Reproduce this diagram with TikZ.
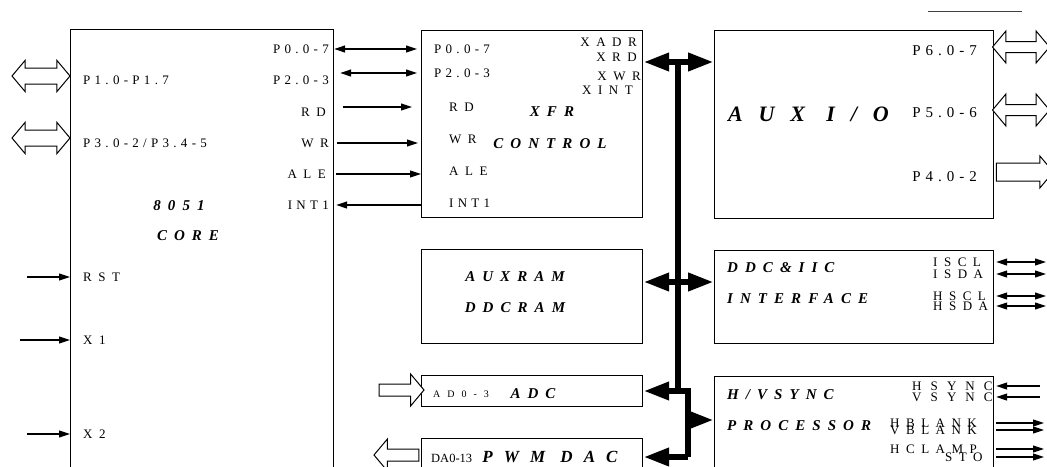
\documentclass[tikz,border=0pt]{standalone}
\usepackage{fontspec}
\setmainfont{Liberation Serif}
\newfontfamily\pinfont[LetterSpace=50]{Liberation Serif}
\newfontfamily\numfont[LetterSpace=33]{Liberation Serif}
\newfontfamily\widefont[LetterSpace=70]{Liberation Serif}
\newfontfamily\ttlfont[LetterSpace=47]{Liberation Serif}
\usetikzlibrary{arrows.meta, shapes.arrows}

\begin{document}
\begin{tikzpicture}[
    x=1pt, y=-1pt,
    blk/.style={draw, line width=1.2pt, rectangle, anchor=north west, inner sep=0pt},
    pin/.style={font=\pinfont\fontsize{13pt}{15pt}\selectfont, inner sep=0pt,
                text height=8.6pt, text depth=0pt},
    num/.style={pin, font=\numfont\fontsize{13pt}{15pt}\selectfont},
    widepin/.style={pin, font=\widefont\fontsize{13pt}{15pt}\selectfont},
    ttl/.style={font=\ttlfont\bfseries\itshape\fontsize{15pt}{17pt}\selectfont,
                inner sep=0pt, text height=9.9pt, text depth=0pt},
    sig/.style={line width=1.1pt},
    pinhead/.tip={Triangle[length=11pt, width=7pt]},
    bushead/.tip={Triangle[length=26pt, width=17pt]},
    bus/.style={line width=6.5pt},
    hollow/.style={draw, line width=1pt, fill=white, inner xsep=0pt,
                   double arrow tip angle=100, single arrow tip angle=100},
  ]
    \useasboundingbox (0,0) rectangle (1047,466);
    \clip (0,0) rectangle (1047,466);

    % Blocks
    \node[blk, minimum width=263pt, minimum height=451pt] (core) at (70,29) {};
    \node[blk, minimum width=221pt, minimum height=187pt] (xfr) at (421,30) {};
    \node[blk, minimum width=221pt, minimum height=94pt] (auxram) at (421,249) {};
    \node[blk, minimum width=221pt, minimum height=31pt] (adc) at (421,375) {};
    \node[blk, minimum width=221pt, minimum height=42pt] (dac) at (421,438) {};
    \node[blk, minimum width=279pt, minimum height=188pt] (auxio) at (714,30) {};
    \node[blk, minimum width=279pt, minimum height=93pt] (ddc) at (714,250) {};
    \node[blk, minimum width=279pt, minimum height=104pt] (sync) at (714,376) {};

    % 8051 core
    \node[num, anchor=west] (cp1) at (83,80) {P1.0-P1.7};
    \node[num, anchor=west] (cp3) at (83,143) {P3.0-2/P3.4-5};
    \node[pin, anchor=west] (crst) at (83,277) {RST};
    \node[pin, anchor=west] (cx1) at (83,340) {X1};
    \node[pin, anchor=west] (cx2) at (83,434) {X2};
    \node[num, anchor=east] (cp0) at (329,49) {P0.0-7};
    \node[num, anchor=east] (cp2) at (329,80) {P2.0-3};
    \node[pin, anchor=east] (crd) at (326,112) {RD};
    \node[pin, anchor=east] (cwr) at (329,143) {WR};
    \node[pin, anchor=east] (cale) at (326,174) {ALE};
    \node[num, anchor=east] (cint) at (329,205) {INT1};
    \node[ttl] (c8051) at (179,206) {8051};
    \node[ttl] (ccore) at (188,236) {CORE};

    % XFR control
    \node[num, anchor=west] (xp0) at (434,49) {P0.0-7};
    \node[num, anchor=west] (xp2) at (434,73) {P2.0-3};
    \node[pin, anchor=west] (xrd) at (449,107) {RD};
    \node[pin, anchor=west] (xwr) at (449,139) {WR};
    \node[pin, anchor=west] (xale) at (449,171) {ALE};
    \node[num, anchor=west] (xint) at (449,203) {INT1};
    \node[pin, anchor=east] (xadr) at (637,42) {XADR};
    \node[pin, anchor=east] (xxrd) at (637,57) {XRD};
    \node[pin, anchor=east] (xxwr) at (641,76) {XWR};
    \node[pin, anchor=west] (xxint) at (582,90) {XINT};
    \node[ttl] (xname) at (552,112) {XFR};
    \node[ttl] (xctl) at (550,144) {CONTROL};

    % RAM, ADC, DAC
    \node[ttl] (raux) at (515,277) {AUXRAM};
    \node[ttl] (rddc) at (515,308) {DDCRAM};
    \node[pin, anchor=west, font=\widefont\fontsize{10pt}{12pt}\selectfont,
          text height=6.6pt] (adin) at (433,394) {AD0-3};
    \node[ttl] (adname) at (533,394) {ADC};
    \node[pin, anchor=west, font=\fontsize{12.5pt}{14pt}\selectfont] (daout) at (431,458) {DA0-13};
    \node[ttl, text height=11.3pt,
          font=\ttlfont\bfseries\itshape\fontsize{17pt}{19pt}\selectfont\addfontfeature{LetterSpace=65}]
          (daname) at (550,457) {PWM DAC};

    % AUX I/O
    \node[ttl, anchor=west, text height=14.6pt,
          font=\ttlfont\bfseries\itshape\fontsize{22pt}{24pt}\selectfont\addfontfeature{LetterSpace=72}]
          (auxname) at (728,114) {AUX I/O};
    \node[num, anchor=east, font=\numfont\fontsize{15pt}{17pt}\selectfont, text height=9.9pt] (ap6) at (977,51) {P6.0-7};
    \node[num, anchor=east, font=\numfont\fontsize{15pt}{17pt}\selectfont, text height=9.9pt] (ap5) at (977,113) {P5.0-6};
    \node[num, anchor=east, font=\numfont\fontsize{15pt}{17pt}\selectfont, text height=9.9pt] (ap4) at (977,177) {P4.0-2};

    % DDC & IIC
    \node[ttl, anchor=west] (dname) at (727,268) {DDC\&IIC};
    \node[ttl, anchor=west] (dif) at (727,299) {INTERFACE};
    \node[pin, anchor=west] (iscl) at (933,262) {ISCL};
    \node[pin, anchor=west] (isda) at (933,274) {ISDA};
    \node[pin, anchor=west] (hscl) at (933,296) {HSCL};
    \node[pin, anchor=west] (hsda) at (933,306) {HSDA};

    % H/V sync
    \node[ttl, anchor=west] (sname) at (727,395) {H/VSYNC};
    \node[ttl, anchor=west] (sproc) at (727,426) {PROCESSOR};
    \node[widepin, anchor=west] (hsync) at (912,386) {HSYNC};
    \node[widepin, anchor=west] (vsync) at (912,397) {VSYNC};
    \node[pin, anchor=west] (hblank) at (890,423) {HBLANK};
    \node[pin, anchor=west] (vblank) at (890,430) {VBLANK};
    \node[pin, anchor=west] (hclamp) at (890,449) {HCLAMP};
    \node[pin, anchor=west] (sto) at (945,457) {STO};

    % Hollow port arrows
    \node[hollow, double arrow, minimum height=58pt, minimum width=30pt, inner ysep=7.5pt,
          double arrow head extend=7.5pt] (p1port) at (41,76) {};
    \node[hollow, double arrow, minimum height=58pt, minimum width=30pt, inner ysep=7.5pt,
          double arrow head extend=7.5pt] (p3port) at (41,138) {};
    \node[hollow, single arrow, minimum height=45pt, minimum width=31pt, inner ysep=5.5pt,
          single arrow head extend=10pt] (adport) at (399,390) {};
    \node[hollow, single arrow, shape border rotate=180, minimum height=45pt, minimum width=31pt,
          inner ysep=5.5pt, single arrow head extend=10pt] (daport) at (399,455) {};
    \node[hollow, double arrow, minimum height=57pt, minimum width=31pt, inner ysep=5pt,
          double arrow head extend=10.5pt] (p6port) at (1021,47) {};
    \node[hollow, double arrow, minimum height=57pt, minimum width=31pt, inner ysep=5pt,
          double arrow head extend=10.5pt] (p5port) at (1021,110) {};
    \node[hollow, single arrow, minimum height=57pt, minimum width=31pt, inner ysep=8.5pt,
          single arrow head extend=7pt] (p4port) at (1021,172) {};

    % Core inputs
    \draw[sig, -pinhead] ([xshift=-43pt]core.west |- crst) -- (core.west |- crst);
    \draw[sig, -pinhead] ([xshift=-50pt]core.west |- cx1) -- (core.west |- cx1);
    \draw[sig, -pinhead] ([xshift=-43pt]core.west |- cx2) -- (core.west |- cx2);

    % Core <-> XFR
    \draw[sig, pinhead-pinhead] (core.east |- cp0) -- ([xshift=-4pt]xfr.west |- cp0);
    \draw[sig, pinhead-pinhead] ([xshift=6pt]core.east |- xp2) -- ([xshift=-4pt]xfr.west |- xp2);
    \draw[sig, -pinhead] ([xshift=9pt]core.east |- xrd) -- ([xshift=-9pt]xfr.west |- xrd);
    \draw[sig, -pinhead] ([xshift=3pt]core.east |- cwr) -- ([xshift=-3pt]xfr.west |- cwr);
    \draw[sig, -pinhead] ([xshift=2pt]core.east |- cale) -- (xfr.west |- cale);
    \draw[sig, -pinhead] (xfr.west |- cint) -- ([xshift=2pt]core.east |- cint);

    % Internal bus
    \coordinate (bustop) at (678,62);
    \coordinate (busram) at (678,282);
    \coordinate (busadc) at (678,391);
    \coordinate (busjog) at (688,391);
    \coordinate (bussync) at (688,420);
    \coordinate (busdac) at (688,457);
    \draw[bus, bushead-bushead] (xfr.east |- bustop) -- (auxio.west |- bustop);
    \draw[bus, bushead-bushead] (auxram.east |- busram) -- (ddc.west |- busram);
    \draw[bus, line join=miter] (bustop) -- (busadc) -- (busjog) -- (busdac);
    \draw[bus, -bushead] (busadc) -- (adc.east |- busadc);
    \draw[bus, -bushead] (busdac) -- (dac.east |- busdac);
    \draw[bus, -bushead] (bussync) -- (sync.west |- bussync);

    % Right side pins
    \coordinate (rim) at (1046,0);
    \draw[sig, pinhead-pinhead] ([xshift=2pt]ddc.east |- iscl) -- (rim |- iscl);
    \draw[sig, pinhead-pinhead] ([xshift=2pt]ddc.east |- isda) -- (rim |- isda);
    \draw[sig, pinhead-pinhead] ([xshift=2pt]ddc.east |- hscl) -- (rim |- hscl);
    \draw[sig, pinhead-pinhead] ([xshift=2pt]ddc.east |- hsda) -- (rim |- hsda);
    \draw[sig, -pinhead] ([xshift=-6pt]rim |- hsync) -- ([xshift=2pt]sync.east |- hsync);
    \draw[sig, -pinhead] ([xshift=-6pt]rim |- vsync) -- ([xshift=2pt]sync.east |- vsync);
    \draw[sig, -pinhead] ([xshift=2pt]sync.east |- hblank) -- ([xshift=-2pt]rim |- hblank);
    \draw[sig, -pinhead] ([xshift=2pt]sync.east |- vblank) -- ([xshift=-2pt]rim |- vblank);
    \draw[sig, -pinhead] ([xshift=2pt]sync.east |- hclamp) -- ([xshift=-2pt]rim |- hclamp);
    \draw[sig, -pinhead] ([xshift=2pt]sync.east |- sto) -- ([xshift=-2pt]rim |- sto);

    % stray rule at top
    \draw[line width=0.8pt, black!75] (928,11) -- (1022,11);
\end{tikzpicture}
\end{document}
